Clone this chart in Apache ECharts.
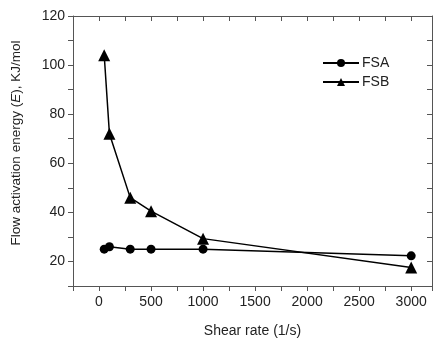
<!DOCTYPE html>
<html>
<head>
<meta charset="utf-8">
<script src="https://cdn.jsdelivr.net/npm/echarts@6/dist/echarts.min.js"></script>
<style>html,body{margin:0;padding:0;background:#fff}#c{width:436px;height:340px}</style>
</head>
<body>
<div id="c"></div>
<script>
var shearRate = [50, 100, 300, 500, 1000, 3000];
var fsa = [25, 26, 25, 25, 25, 22.3];
var fsb = [104, 72, 46, 40.5, 29.3, 17.5];
var seriesNames = ['FSA', 'FSB'];
var xName = 'Shear rate (1/s)';
var yName = 'Flow activation energy ({i|E}), KJ/mol';

function pairs(xs, ys) { return xs.map(function (x, i) { return [x, ys[i]]; }); }

var font = 'Liberation Sans, Arial, sans-serif';
var txt = '#222';
var axisCol = '#555';

var chart = echarts.init(document.getElementById('c'));
chart.setOption({
  animation: false,
  backgroundColor: '#fff',
  grid: { left: 73, top: 16, right: 4, bottom: 54, containLabel: false, outerBoundsMode: 'none' },
  legend: {
    data: seriesNames,
    orient: 'vertical',
    left: 322, top: 56, padding: 0,
    itemWidth: 36, itemHeight: 10, itemGap: 5,
    textStyle: { fontFamily: font, fontSize: 14, color: txt, padding: [0, 0, 0, -2] }
  },
  xAxis: [{
    type: 'value', min: -250, max: 3200, interval: 250,
    name: xName, nameLocation: 'middle', nameGap: 38,
    nameTextStyle: { fontFamily: font, fontSize: 14, color: txt },
    axisLine: { onZero: false, lineStyle: { color: axisCol, width: 1 } },
    axisTick: { show: true, length: 5, lineStyle: { color: axisCol } },
    axisLabel: { fontFamily: font, fontSize: 14, color: txt, margin: 9,
      formatter: function (v) { return (v >= 0 && v % 500 === 0) ? String(v) : ''; } },
    splitLine: { show: false }
  }, {
    type: 'value', position: 'top', min: -250, max: 3200, interval: 250,
    axisLine: { show: true, onZero: false, lineStyle: { color: axisCol, width: 1 } },
    axisTick: { show: true, inside: true, length: 5, lineStyle: { color: axisCol } },
    axisLabel: { show: false }, splitLine: { show: false }
  }],
  yAxis: [{
    type: 'value', min: 10, max: 120, interval: 10,
    name: yName, nameLocation: 'middle', nameGap: 50, nameRotate: 90,
    nameTextStyle: { fontFamily: font, fontSize: 13.5, color: txt, padding: [0, 0, 0, 16],
      rich: { i: { fontFamily: font, fontSize: 13.5, color: txt, fontStyle: 'italic' } } },
    axisLine: { show: true, onZero: false, lineStyle: { color: axisCol, width: 1 } },
    axisTick: { show: true, length: 5, lineStyle: { color: axisCol } },
    axisLabel: { fontFamily: font, fontSize: 14, color: txt, margin: 8,
      formatter: function (v) { return v % 20 === 0 ? String(v) : ''; } },
    splitLine: { show: false }
  }, {
    type: 'value', position: 'right', min: 10, max: 120, interval: 10,
    axisLine: { show: true, onZero: false, lineStyle: { color: axisCol, width: 1 } },
    axisTick: { show: true, inside: true, length: 5, lineStyle: { color: axisCol } },
    axisLabel: { show: false }, splitLine: { show: false }
  }],
  series: [{
    name: seriesNames[0], type: 'line', data: pairs(shearRate, fsa),
    symbol: 'circle', symbolSize: 9,
    lineStyle: { color: '#000', width: 1.5 },
    itemStyle: { color: '#000' }
  }, {
    name: seriesNames[1], type: 'line', data: pairs(shearRate, fsb),
    symbol: 'triangle', symbolSize: 12,
    lineStyle: { color: '#000', width: 1.5 },
    itemStyle: { color: '#000' }
  }]
});
</script>
</body>
</html>
